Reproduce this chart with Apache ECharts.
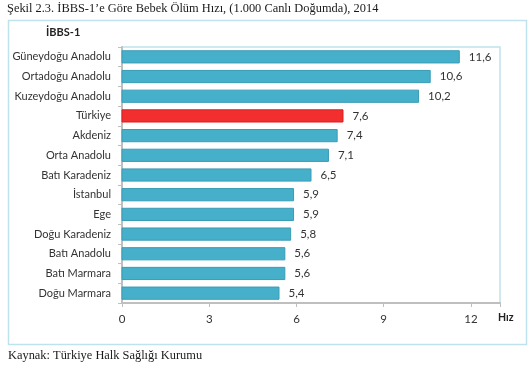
<!DOCTYPE html>
<html><head><meta charset="utf-8">
<script src="https://cdn.jsdelivr.net/npm/echarts@6/dist/echarts.min.js"></script>
<style>html,body{margin:0;padding:0;background:#fff}#c{width:532px;height:370px}</style>
</head><body><div id="c"></div>
<script>
const categories = ["Güneydoğu Anadolu","Ortadoğu Anadolu","Kuzeydoğu Anadolu","Türkiye","Akdeniz","Orta Anadolu","Batı Karadeniz","İstanbul","Ege","Doğu Karadeniz","Batı Anadolu","Batı Marmara","Doğu Marmara"];
const values = [11.6,10.6,10.2,7.6,7.4,7.1,6.5,5.9,5.9,5.8,5.6,5.6,5.4];
const xTicks = [0,3,6,9,12];
const highlight = "Türkiye";

const chart = echarts.init(document.getElementById('c'));
const data = values.map((v,i)=>({
  value:v,
  itemStyle: categories[i]===highlight ? {color:'#F22E2E',borderColor:'#D82020'} : {color:'#46B0CB',borderColor:'#3A9CB6'}
}));
chart.setOption({
  animation:false,
  textStyle:{fontFamily:'Lato'},
  graphic:[
    {type:'rect',shape:{x:8.5,y:20.5,width:518,height:324},style:{fill:'none',stroke:'#BEE3EC',lineWidth:1.5}},
    {type:'text',left:7,top:3,style:{text:'Şekil 2.3. İBBS-1’e Göre Bebek Ölüm Hızı, (1.000 Canlı Doğumda), 2014',font:'12.4px "Liberation Serif"',fill:'#1a1a1a'}},
    {type:'text',left:46,top:27,style:{text:'İBBS-1',font:'bold 11px "Lato"',fill:'#222'}},
    {type:'text',left:498,top:312,style:{text:'Hız',font:'bold 10.5px "Lato"',fill:'#222'}},
    {type:'text',left:8,top:350,style:{text:'Kaynak: Türkiye Halk Sağlığı Kurumu',font:'12.4px "Liberation Serif"',fill:'#1a1a1a'}}
  ],
  grid:{left:122,right:32,top:47,bottom:67,show:true,borderColor:'#BEE3EC',borderWidth:1.5,containLabel:false},
  xAxis:{type:'value',min:0,max:13,interval:3,
    axisLine:{show:true,lineStyle:{color:'#BFBFBF',width:2}},
    axisTick:{show:true,length:4,lineStyle:{color:'#BFBFBF'}},
    splitLine:{show:false},
    axisLabel:{color:'#333',fontSize:11.5,margin:10,formatter:v=>xTicks.includes(v)?String(v):''}
  },
  yAxis:{type:'category',data:categories,inverse:true,
    axisLine:{show:true,lineStyle:{color:'#BFBFBF',width:2}},
    axisTick:{show:true,length:4,lineStyle:{color:'#BFBFBF'}},
    axisLabel:{color:'#333',fontSize:11,margin:11}
  },
  series:[{type:'bar',data:data,barCategoryGap:'38%',
    label:{show:true,position:'right',distance:9,color:'#333',fontSize:11.5,
      formatter:p=>String(p.value).replace('.',',')}
  }]
});
</script></body></html>
